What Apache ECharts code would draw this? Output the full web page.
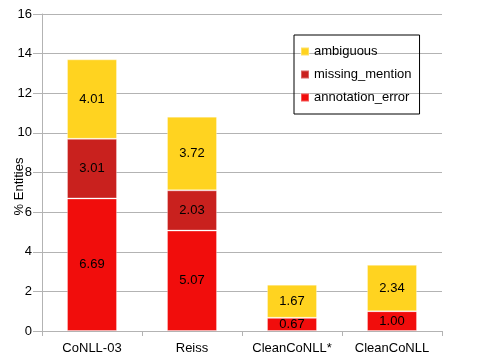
<!DOCTYPE html>
<html>
<head>
<meta charset="utf-8">
<script src="https://cdn.jsdelivr.net/npm/echarts@6/dist/echarts.min.js"></script>
<style>
  html, body { margin: 0; padding: 0; background: #fff; }
  #chart { width: 477px; height: 363px; }
</style>
</head>
<body>
<div id="chart"></div>
<script>
// 数据
var categories = ["CoNLL-03", "Reiss", "CleanCoNLL*", "CleanCoNLL"];
var annotationError = [6.69, 5.07, 0.67, 1.00];
var missingMention = [3.01, 2.03, 0, 0];
var ambiguous = [4.01, 3.72, 1.67, 2.34];

var font = "Liberation Sans, Arial, sans-serif";

function bar(name, data, color) {
  return {
    name: name,
    type: "bar",
    stack: "total",
    barWidth: "50%",
    data: data,
    itemStyle: { color: color, borderColor: "rgba(255,255,255,0.3)", borderWidth: 1 },
    label: {
      show: true,
      position: "inside",
      color: "#000",
      fontSize: 13,
      fontFamily: font,
      formatter: function (p) {
        return p.value ? p.value.toFixed(2) : "";
      },
    },
  };
}

var option = {
  animation: false,
  grid: { left: 42, right: 35, top: 14, bottom: 32, containLabel: false, outerBoundsMode: "none" },
  legend: {
    orient: "vertical",
    left: 294,
    top: 35,
    padding: [10, 8, 10, 6],
    itemGap: 10,
    itemWidth: 8,
    itemHeight: 8,
    borderColor: "#000",
    borderWidth: 1,
    icon: "rect",
    textStyle: { fontSize: 13, color: "#000", fontFamily: font },
    data: ["ambiguous", "missing_mention", "annotation_error"],
  },
  xAxis: {
    type: "category",
    data: categories,
    axisLine: { lineStyle: { color: "#b3b3b3" } },
    axisTick: { show: true, length: 5, lineStyle: { color: "#b3b3b3" } },
    axisLabel: { color: "#000", fontSize: 13, fontFamily: font, margin: 11, interval: 0, hideOverlap: false },
  },
  yAxis: {
    type: "value",
    min: 0,
    max: 16,
    interval: 2,
    name: "% Entities",
    nameLocation: "middle",
    nameGap: 16,
    nameMoveOverlap: false,
    nameTextStyle: { color: "#000", fontSize: 13, fontFamily: font, padding: [0, 28, 0, 0] },
    axisLine: { show: true, lineStyle: { color: "#b3b3b3" } },
    axisTick: { show: true, length: 9, lineStyle: { color: "#b3b3b3" } },
    axisLabel: { color: "#000", fontSize: 13, fontFamily: font, margin: 10 },
    splitLine: { lineStyle: { color: "#b3b3b3" } },
  },
  series: [
    bar("annotation_error", annotationError, "#f10d0c"),
    bar("missing_mention", missingMention, "#c9211e"),
    bar("ambiguous", ambiguous, "#ffd320"),
  ],
};

var myChart = echarts.init(document.getElementById("chart"));
myChart.setOption(option);
</script>
</body>
</html>
